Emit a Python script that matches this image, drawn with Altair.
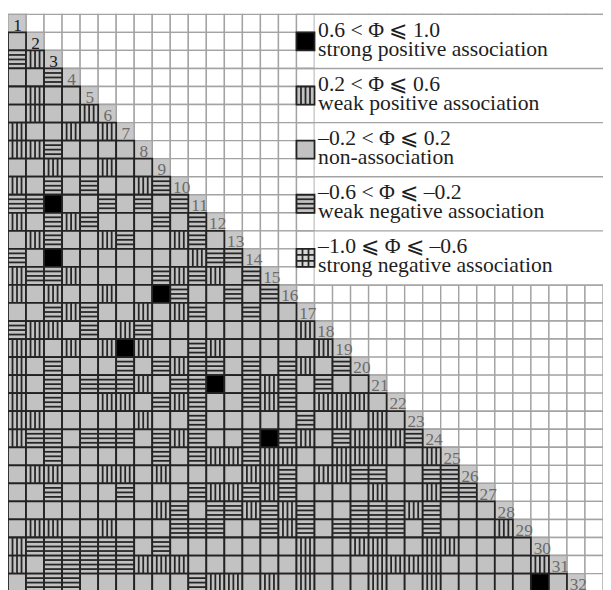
import altair as alt
import pandas as pd

N_SPECIES = 32
GRID_COLS = 33
GRID_ROWS = 32

# Association class of species pair (row i, column j), j < i, rows 2..32.
# B strong positive, V weak positive, G non-association, H weak negative, X strong negative
assoc_rows = [
    "G",
    "HV",
    "GGH",
    "GVGG",
    "GVGGV",
    "VGGVGV",
    "VVHGGGG",
    "GGVGGVGG",
    "VGHGHGGVH",
    "HHBGGHGHGH",
    "VGHVHGGGHGH",
    "GVHGGVHGGVHG",
    "HGBGGGGGGGVHH",
    "VHHVGGGGHVHVGH",
    "VGVGGVGGBHGGHGH",
    "GGHVHGGVGVHGGHGG",
    "HVVGHGVHGGGGGGGGV",
    "VVGVGVBVGGHVGGGGGV",
    "VGHGGGHGHVHHGHGHVGH",
    "VGHGHHHVGHHBGHVHGHGG",
    "VGHGGVVGHVHGGHVHGVVVG",
    "VVGGGGGVGGHGGGGGHGVGVG",
    "VHHGHHHGHVHGGHBHVGHVVVH",
    "GGHGGGGGHGHVVHVVGGVVVGGV",
    "GVVGGVVGVGGGGVVHGVVHHGGHH",
    "GGHGGGHGGGHVVHVHGGGGVGGVHH",
    "GGGGGGGGVHGHHVHVHGGHHHVHGGG",
    "GVVGGVGGGHHHGGHVHGHHHHGHGGGV",
    "VHHHHHHGHGGGGGGGVGGVVGGVVGGGG",
    "VGHHHHHVVVGGGGGGVGGGVVVVGGGGGV",
    "GHHHGGGGGGHVVGVGVGGGVGGVGGGGGBG",
]

legend_codes = ["B", "V", "G", "H", "X"]
legend_ranges = [
    "0.6 < \u03a6 \u2a7d 1.0",
    "0.2 < \u03a6 \u2a7d 0.6",
    "\u20130.2 < \u03a6 \u2a7d 0.2",
    "\u20130.6 < \u03a6 \u2a7d \u20130.2",
    "\u20131.0 \u2a7d \u03a6 \u2a7d \u20130.6",
]
legend_labels = [
    "strong positive association",
    "weak positive association",
    "non-association",
    "weak negative association",
    "strong negative association",
]

code_domain = ["B", "V", "G", "H", "X"]
code_fill = ["#000000", "#c2c2c2", "#c2c2c2", "#c2c2c2", "#d8d8d8"]
STRIPES = 3
LEGEND_COL = 16          # swatch column (0-based)
LEGEND_ROWS_EACH = 3

# ---------- build tables ----------
bg = pd.DataFrame([
    {"x0": c, "x1": c + 1, "y0": r, "y1": r + 1}
    for r in range(GRID_ROWS) for c in range(GRID_COLS)
])

cells = []
for i, row in enumerate(assoc_rows):
    r = i + 1
    for c, code in enumerate(row):
        cells.append({"x0": c, "x1": c + 1, "y0": r, "y1": r + 1, "code": code})
for k, code in enumerate(legend_codes):
    r = k * LEGEND_ROWS_EACH + 1
    cells.append({"x0": LEGEND_COL, "x1": LEGEND_COL + 1, "y0": r, "y1": r + 1, "code": code})
cells = pd.DataFrame(cells)

vstripes, hstripes = [], []
for rec in cells.itertuples():
    n = STRIPES if rec.code in ("V", "H") else 2
    if rec.code in ("V", "X"):
        for s in range(1, n + 1):
            vstripes.append({"x": rec.x0 + s / (n + 1), "y0": rec.y0, "y1": rec.y1})
    if rec.code in ("H", "X"):
        for s in range(1, n + 1):
            hstripes.append({"y": rec.y0 + s / (n + 1), "x0": rec.x0, "x1": rec.x1})
vstripes = pd.DataFrame(vstripes)
hstripes = pd.DataFrame(hstripes)

diag = pd.DataFrame([
    {"x0": i, "x1": i + 1, "y0": i, "y1": i + 1,
     "xc": i + 0.5 + (0.13 if i >= 9 else 0.03), "yb": i + 0.9,
     "label": str(i + 1), "col": "#1a1a1a" if i < 3 else "#6b6b6b"}
    for i in range(N_SPECIES)
])

n_leg = len(legend_codes)
legend_box = pd.DataFrame([{"x0": LEGEND_COL + 1, "x1": GRID_COLS + 1, "y0": 0,
                            "y1": n_leg * LEGEND_ROWS_EACH}])
legend_sep = pd.DataFrame([{"y": k * LEGEND_ROWS_EACH, "x0": LEGEND_COL, "x1": GRID_COLS + 1}
                           for k in range(n_leg + 1)])
legend_text = pd.DataFrame(
    [{"x": LEGEND_COL + 1.2, "y": k * LEGEND_ROWS_EACH + 1.25, "t": legend_ranges[k]} for k in range(n_leg)]
    + [{"x": LEGEND_COL + 1.2, "y": k * LEGEND_ROWS_EACH + 2.3, "t": legend_labels[k]} for k in range(n_leg)]
)

# ---------- chart ----------
xs = alt.Scale(domain=[0, GRID_COLS], nice=False, zero=False)
ys = alt.Scale(domain=[0, GRID_ROWS], nice=False, zero=False, reverse=True)


def X(f):
    return alt.X(f, type="quantitative", scale=xs, axis=None)


def Y(f):
    return alt.Y(f, type="quantitative", scale=ys, axis=None)


grid = alt.Chart(bg).mark_rect(fill="white", stroke="#a3a3a3", strokeWidth=1.4).encode(
    x=X("x0"), x2="x1", y=Y("y0"), y2="y1")

box = alt.Chart(legend_box).mark_rect(fill="white").encode(
    x=X("x0"), x2="x1", y=Y("y0"), y2="y1")

seps = alt.Chart(legend_sep).mark_rule(color="#a3a3a3", strokeWidth=1.4).encode(
    x=X("x0"), x2="x1", y=Y("y"))

diag_cells = alt.Chart(diag).mark_rect(fill="#c8c8c8", stroke="#a3a3a3", strokeWidth=1.4).encode(
    x=X("x0"), x2="x1", y=Y("y0"), y2="y1")

cell_marks = alt.Chart(cells).mark_rect(stroke="#222222", strokeWidth=1.8).encode(
    x=X("x0"), x2="x1", y=Y("y0"), y2="y1",
    fill=alt.Fill("code:N", scale=alt.Scale(domain=code_domain, range=code_fill), legend=None))

vs = alt.Chart(vstripes).mark_rule(color="#262626", strokeWidth=1.8).encode(
    x=X("x"), y=Y("y0"), y2="y1")
hs = alt.Chart(hstripes).mark_rule(color="#262626", strokeWidth=1.8).encode(
    y=Y("y"), x=X("x0"), x2="x1")

labels = alt.Chart(diag).mark_text(font="Liberation Serif", fontSize=17.5, align="center",
                                   baseline="alphabetic").encode(
    x=X("xc"), y=Y("yb"), text="label:N",
    color=alt.Color("col:N", scale=None))

leg_txt = alt.Chart(legend_text).mark_text(font="Liberation Serif", fontSize=22, align="left",
                                           baseline="alphabetic", color="#1e1e1e").encode(
    x=X("x"), y=Y("y"), text="t:N")

chart = alt.layer(grid, box, seps, diag_cells, cell_marks, vs, hs, labels, leg_txt).properties(
    width=604, height=586,
    padding={"left": 0, "top": 2, "right": 0, "bottom": 0},
    autosize=alt.AutoSizeParams(type="none"),
    background="white",
).configure_view(stroke=None)

chart.save("out.html", embed_options={"renderer": "svg", "actions": False})
